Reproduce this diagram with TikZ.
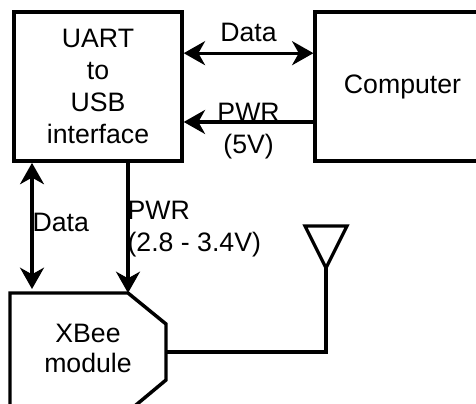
\documentclass[tikz,border=0pt]{standalone}
\usepackage{fontspec}
\setmainfont{Liberation Sans}
\usetikzlibrary{arrows.meta, positioning}

\begin{document}
\begin{tikzpicture}[x=0.75pt, y=-0.75pt, line width=2.4pt,
		box/.style={draw, line width=2.6pt, align=center, inner sep=0pt},
		lbl/.style={inner sep=0pt, align=left},
		>={Stealth[length=16pt, width=18pt, inset=5pt]},
		font=\fontsize{20}{24}\selectfont]
		\useasboundingbox (0,0) rectangle (476,404);
		\clip (0,0) rectangle (476,404);
		\node[box, minimum width=126pt, minimum height=112pt] (uart) at (98,86.5) {UART\\to\\USB\\interface};
		\node[box, minimum width=131pt, minimum height=112pt] (computer) at (402.5,86.5) {Computer};
		\draw[<->] ([yshift=25pt]uart.east) -- ([yshift=25pt]computer.west) 
		node[midway, above=7pt, lbl] (datah) {Data};
		\draw[->] ([yshift=-26.6pt]computer.west) -- ([yshift=-26.6pt]uart.east) 
		node[midway, lbl, align=center, anchor=north, yshift=15pt] (pwrh) {PWR\\(5V)};
		% XBee module
		\coordinate (xbcorner) at (128,293);
		\coordinate (xbright) at (166,352);
		\draw[line width=2.6pt] (10,420) -- (10,293) -- (xbcorner) -- (166,324) -- (166,380) -- (130,410);
		\node[lbl, align=center, font=\fontsize{20}{22.5}\selectfont] (xbee) at (88,348) {XBee\\module};
		\coordinate (dataend) at (32,289);
		\draw[<->] (uart.south -| dataend) -- (dataend);
		\node[lbl, anchor=west] (datav) at (31,222) {Data};
		\draw[->] (uart.south -| xbcorner) -- (xbcorner);
		\node[lbl, anchor=north west] (pwrv) at (126,200) {PWR\\(2.8 - 3.4V)};
		% antenna
		\coordinate (ant) at (326,268);
		\draw (ant) -- ++(-21,-42) -- ++(42,0) -- cycle;
		\draw (xbright) -| (ant);
	\end{tikzpicture}
\end{document}
